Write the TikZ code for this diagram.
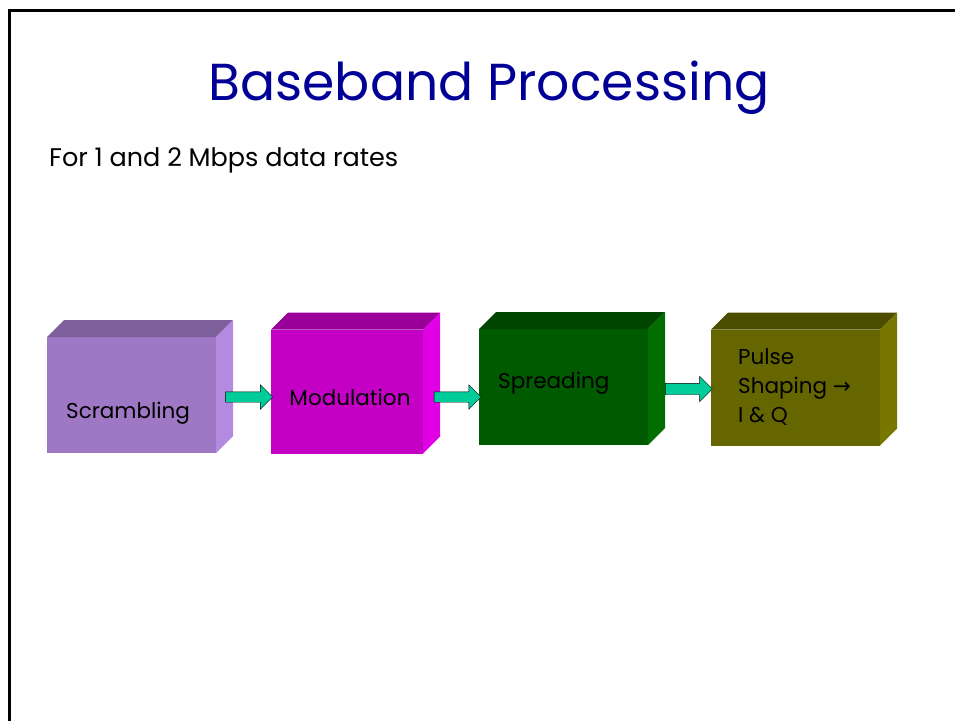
\documentclass[tikz,border=0pt]{standalone}
\usepackage{fontspec}
\setmainfont{Poppins}
\newfontfamily\symfont{DejaVu Sans}
\usetikzlibrary{shapes.arrows,positioning}

\definecolor{titleblue}{RGB}{0,0,150}
\definecolor{arrowgreen}{RGB}{0,204,153}
\definecolor{scrfront}{RGB}{158,120,196}
\definecolor{scrtop}{RGB}{125,95,156}
\definecolor{scrside}{RGB}{180,138,224}
\definecolor{modfront}{RGB}{196,0,196}
\definecolor{modtop}{RGB}{153,0,153}
\definecolor{modside}{RGB}{224,0,230}
\definecolor{sprfront}{RGB}{0,90,0}
\definecolor{sprtop}{RGB}{0,70,0}
\definecolor{sprside}{RGB}{0,110,0}
\definecolor{pulfront}{RGB}{102,102,0}
\definecolor{pultop}{RGB}{77,77,0}
\definecolor{pulside}{RGB}{119,119,0}

\begin{document}
\begin{tikzpicture}[x=1pt, y=-1pt,
   box_style/.style={rectangle, inner sep=0pt, outer sep=0pt, minimum width=169pt, minimum height=116pt},
   arrow_style/.style={single arrow, draw=black, thin, fill=arrowgreen, inner sep=0pt, outer sep=0pt,
      minimum height=47pt, single arrow head extend=7pt},
   label_style/.style={font=\fontsize{21.5}{29}\selectfont, text=black, inner sep=0pt, align=left}]

    \useasboundingbox (0,0) rectangle (955,720);

    % frame
    \draw[line width=3pt] (9,721) -- (9,10) -- (956,10);

    % title and subtitle
    \node[font=\fontsize{52}{60}\selectfont, text=titleblue, inner sep=0pt] (title) at (489,88) {Baseband Processing};
    \node[font=\fontsize{25.5}{30}\selectfont, anchor=west, inner sep=0pt] (sub) at (49,160) {For 1 and 2 Mbps data rates};

    % blocks (front faces)
    \node[box_style, fill=scrfront, minimum width=169pt, minimum height=116pt] (b1) at (131.5,395) {};
    \node[box_style, fill=modfront, minimum width=152pt, minimum height=124pt] (b2) at (347,391.5) {};
    \node[box_style, fill=sprfront, minimum width=169pt, minimum height=116pt] (b3) at (563.5,387) {};
    \node[box_style, fill=pulfront, minimum width=169pt, minimum height=116pt] (b4) at (795.5,387.5) {};

    % top and side faces
    \fill[scrtop]  (b1.north west) -- ++(17,-17) -- ++(169,0) -- (b1.north east) -- cycle;
    \fill[scrside] (b1.north east) -- ++(17,-17) -- ++(0,116) -- (b1.south east) -- cycle;
    \fill[modtop]  (b2.north west) -- ++(17,-17) -- ++(152,0) -- (b2.north east) -- cycle;
    \fill[modside] (b2.north east) -- ++(17,-17) -- ++(0,124) -- (b2.south east) -- cycle;
    \fill[sprtop]  (b3.north west) -- ++(17,-17) -- ++(169,0) -- (b3.north east) -- cycle;
    \fill[sprside] (b3.north east) -- ++(17,-17) -- ++(0,116) -- (b3.south east) -- cycle;
    \fill[pultop]  (b4.north west) -- ++(17,-17) -- ++(169,0) -- (b4.north east) -- cycle;
    \fill[pulside] (b4.north east) -- ++(17,-17) -- ++(0,116) -- (b4.south east) -- cycle;

    % labels
    \node[label_style, anchor=west] (t1) at (66,413) {Scrambling};
    \node[label_style] (t2) at (350,397) {Modulation};
    \node[label_style, anchor=west] (t3) at (498,383) {Spreading};
    \node[label_style, anchor=west] (t4) at (738,387)
        {Pulse\\Shaping {\symfont →}\\I \& Q};

    % block arrows
    \node[arrow_style] (a1) at (246.5,397) {\rule{0pt}{10pt}};
    \node[arrow_style] (a2) at (455,397) {\rule{0pt}{10pt}};
    \node[arrow_style] (a3) at (686,389) {\rule{0pt}{11pt}};
    \end{tikzpicture}
\end{document}
